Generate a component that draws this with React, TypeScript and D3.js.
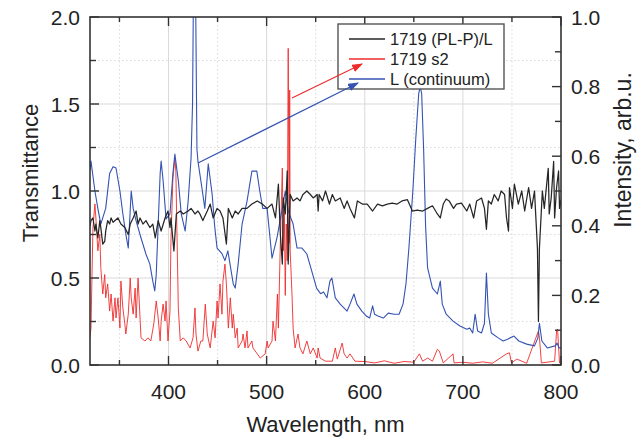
import React from "react";
import * as d3 from "d3";

const W = 640;
const H = 441;

const xTicksMajor = [400, 500, 600, 700, 800];
const xTicksMinor = [350, 450, 550, 650, 750];
const yLeftMajor = [0, 0.5, 1.0, 1.5, 2.0];
const yLeftMinor = [0.25, 0.75, 1.25, 1.75];
const yRightMajor = [0, 0.2, 0.4, 0.6, 0.8, 1.0];
const yRightMinor = [0.1, 0.3, 0.5, 0.7, 0.9];

const legendLabels = ["1719 (PL-P)/L", "1719 s2", "L (continuum)"];
const seriesColors = ["#262626", "#ee2c2c", "#3553b3"];

// Transmittance (left axis)
const blackSeries: [number, number][] = [
  [320, 0.8], [321, 0.83], [323, 0.845], [325, 0.77], [326, 0.81], [328, 0.73], [330, 0.83], [331, 0.79],
  [333, 0.695], [335, 0.71], [336, 0.77], [338, 0.83], [340, 0.81], [341.5, 0.845], [343.5, 0.82], [345.5, 0.83],
  [348.5, 0.845], [351.5, 0.81], [355.5, 0.79], [359, 0.75], [361, 0.81], [364, 0.845], [367, 0.885], [369, 0.81],
  [371, 0.845], [374, 0.81], [377, 0.83], [381, 0.79], [384, 0.81], [386.5, 0.73], [389.5, 0.83], [392.5, 0.77],
  [396.5, 0.845], [399.5, 0.885], [401.5, 0.79], [402.5, 0.845], [405.5, 0.655], [408, 0.868], [412, 0.885],
  [415, 0.868], [420, 0.885], [423, 0.9], [427, 0.868], [430, 0.885], [432, 0.868], [435, 0.83], [439.5, 0.885],
  [442.5, 0.925], [445.5, 0.845], [449.5, 0.9], [452.5, 0.885], [455.5, 0.845], [459, 0.695], [461, 0.9],
  [465, 0.845], [468, 0.885], [471, 0.868], [475, 0.9], [480, 0.9], [485, 0.925], [490.5, 0.943], [495.5, 0.925],
  [500.5, 0.9], [505.5, 0.925], [509, 0.845], [512, 1.04], [514, 0.75], [516, 0.58], [517, 0.96], [519, 0.868],
  [521, 1.115], [522, 0.58], [524, 0.98], [527, 0.943], [531, 0.96], [534, 0.943], [537, 0.98], [541, 1.0],
  [544.5, 0.98], [547.5, 0.96], [551.5, 0.98], [552.5, 0.885], [553.5, 0.98], [557, 0.943], [560, 1.0],
  [564, 0.925], [567, 0.98], [570, 0.943], [575, 0.96], [579, 0.9], [582, 0.943], [585, 0.9], [589.5, 0.845],
  [592.5, 0.943], [597.5, 0.925], [602.5, 0.925], [608, 0.885], [613, 0.925], [618, 0.915], [623, 0.925],
  [628, 0.93], [633, 0.925], [638, 0.943], [643.5, 0.95], [648.5, 0.885], [653.5, 0.89], [659, 0.885],
  [664, 0.9], [669, 0.915], [674, 0.868], [677, 0.845], [680, 0.925], [683, 0.954], [686, 0.943], [690.5, 0.9],
  [693.5, 0.925], [698.5, 0.93], [704, 0.885], [707, 0.925], [711, 0.845], [714, 0.943], [719, 0.96], [722, 0.9],
  [724, 0.78], [726, 0.943], [729, 0.925], [732, 0.98], [736, 0.943], [739, 1.0], [742.5, 0.98], [744.5, 0.845],
  [746.5, 0.77], [747.5, 1.02], [750.5, 0.9], [752.5, 1.04], [756.5, 0.925], [760, 1.0], [763, 0.885],
  [767, 1.02], [770, 0.9], [773, 1.0], [776, 0.67], [777, 0.25], [778, 0.67], [781, 1.0], [783, 0.9],
  [787, 1.13], [788, 0.868], [790, 0.96], [792.5, 1.17], [793.5, 0.845], [795.5, 1.02], [797.5, 1.115],
  [798.5, 0.9], [800, 0.95],
];

// s2 intensity (right axis)
const redSeries: [number, number][] = [
  [320, 0.08], [321, 0.106], [323, 0.394], [325, 0.463], [326, 0.422], [328, 0.328], [330, 0.376], [331, 0.28],
  [333, 0.204], [335, 0.26], [336, 0.193], [338, 0.233], [340, 0.155], [341.5, 0.204], [343.5, 0.126],
  [345.5, 0.193], [346.5, 0.135], [348.5, 0.193], [350.5, 0.106], [351.5, 0.241], [353.5, 0.164], [355.5, 0.118],
  [356.5, 0.089], [359, 0.146], [361, 0.25], [362, 0.193], [364, 0.146], [366, 0.221], [367, 0.135], [369, 0.25],
  [371, 0.135], [372, 0.078], [376, 0.069], [379, 0.078], [382, 0.069], [385, 0.118], [387.5, 0.184],
  [389.5, 0.135], [391.5, 0.069], [392.5, 0.126], [394.5, 0.175], [396.5, 0.126], [397.5, 0.184], [399.5, 0.069],
  [401.5, 0.155], [402.5, 0.356], [404.5, 0.537], [406.5, 0.595], [407.5, 0.557], [410, 0.164], [412, 0.069],
  [415, 0.078], [418, 0.069], [422, 0.049], [425, 0.078], [427, 0.164], [428, 0.089], [430, 0.04], [433, 0.069],
  [435, 0.069], [437.5, 0.175], [439.5, 0.089], [442.5, 0.049], [445.5, 0.126], [447.5, 0.078], [449.5, 0.184],
  [450.5, 0.135], [452.5, 0.233], [454.5, 0.146], [455.5, 0.241], [457.5, 0.29], [459, 0.233], [461, 0.106],
  [463, 0.193], [465, 0.106], [466, 0.146], [468, 0.078], [470, 0.106], [471, 0.049], [475, 0.069], [476, 0.089],
  [478, 0.049], [480, 0.098], [481, 0.049], [485, 0.069], [486, 0.049], [490.5, 0.032], [493.5, 0.02],
  [498.5, 0.032], [500.5, 0.069], [501.5, 0.049], [505.5, 0.069], [506.5, 0.126], [509, 0.069], [511, 0.204],
  [512, 0.106], [514, 0.356], [516, 0.566], [517, 0.328], [518, 0.45], [519, 0.2], [520, 0.405], [521, 0.3],
  [522, 0.91], [523, 0.35], [523.5, 0.79], [524, 0.328], [526, 0.193], [527, 0.106], [529, 0.049], [532, 0.089],
  [534, 0.049], [537, 0.032], [541, 0.069], [544.5, 0.032], [547.5, 0.049], [551.5, 0.02], [552.5, 0.049],
  [554.5, 0.02], [560, 0.011], [567, 0.011], [570, 0.049], [572, 0.017], [577, 0.063], [579, 0.032], [582, 0.02],
  [585, 0.032], [590, 0.011], [600, 0.01], [610, 0.006], [620, 0.012], [630, 0.005], [640, 0.01], [650, 0.008],
  [655.7, 0.032], [659, 0.011], [664, 0.02], [669, 0.011], [674, 0.045], [676, 0.04], [680, 0.006], [690, 0.032],
  [691, 0.006], [700, 0.008], [710, 0.005], [720, 0.009], [730, 0.005], [744.5, 0.032], [747.5, 0.035],
  [749.5, 0.006], [755, 0.017], [765, 0.005], [777, 0.098], [778, 0.08], [780, 0.006], [793.5, 0.011],
  [795.5, 0.098], [796.5, 0.103], [798.5, 0.006], [800, 0.005],
];

// continuum intensity (right axis)
const blueSeries: [number, number][] = [
  [320, 0.56], [321, 0.586], [325, 0.5], [328, 0.45], [331, 0.405], [336, 0.45], [340, 0.55], [343.5, 0.57],
  [346.5, 0.566], [350.5, 0.5], [353.5, 0.434], [356.5, 0.376], [359, 0.336], [362, 0.5], [364, 0.45],
  [367, 0.414], [372, 0.365], [377, 0.319], [381, 0.29], [384, 0.241], [386, 0.213], [387.5, 0.26],
  [389.5, 0.405], [391.5, 0.55], [392.5, 0.586], [394.5, 0.53], [397.5, 0.42], [401.5, 0.434], [404.5, 0.55],
  [406.5, 0.606], [410, 0.53], [413, 0.434], [417, 0.385], [420, 0.47], [423, 0.595], [424.5, 0.75],
  [425.5, 1.1], [427.5, 1.1], [429, 0.62], [430, 0.586], [434, 0.51], [437, 0.45], [440.5, 0.578],
  [444.5, 0.49], [447, 0.4], [449.5, 0.336], [454.5, 0.32], [457.5, 0.3], [460.5, 0.328], [466, 0.233],
  [468, 0.221], [471, 0.29], [475, 0.405], [480, 0.47], [485, 0.557], [490, 0.557], [493, 0.5], [496, 0.45],
  [500.5, 0.45], [505.5, 0.307], [510.5, 0.365], [515.5, 0.443], [519, 0.5], [522, 0.443], [527, 0.405],
  [531, 0.336], [536, 0.336], [541, 0.319], [546, 0.27], [551, 0.22], [555, 0.205], [558, 0.21],
  [561.5, 0.193], [564.5, 0.241], [566.5, 0.25], [570, 0.193], [575, 0.175], [582, 0.155], [585, 0.175],
  [589, 0.204], [592, 0.175], [597, 0.155], [602, 0.14], [605, 0.135], [608, 0.17], [610, 0.146], [614, 0.14],
  [619, 0.135], [624, 0.149], [630, 0.146], [635, 0.146], [639, 0.175], [642, 0.233], [645, 0.336],
  [649, 0.5], [652, 0.65], [655, 0.78], [656.5, 0.8], [658, 0.78], [660, 0.62], [662, 0.4], [664, 0.28],
  [669, 0.221], [674, 0.204], [677, 0.241], [679, 0.175], [683, 0.146], [690, 0.126], [697, 0.112],
  [704, 0.103], [707, 0.106], [710, 0.092], [712.5, 0.146], [715, 0.098], [719, 0.092], [722, 0.12],
  [724, 0.264], [726, 0.146], [729, 0.092], [736, 0.078], [741, 0.069], [746, 0.075], [752, 0.083],
  [757, 0.069], [765, 0.06], [773, 0.055], [776.5, 0.078], [778, 0.12], [780.5, 0.069], [786, 0.049],
  [794, 0.055], [796, 0.063], [798, 0.049], [800, 0.05],
];

// annotation arrows: [fromNm, fromT, toNm, toT] in left-axis units
const redArrow = [525.9, 1.534, 597.2, 1.73];
const blueArrow = [430.1, 1.161, 593.1, 1.621];

const PL = 90, PR = 561, PT = 17, PB = 365;
const FONT = "'Liberation Sans', Arial, Helvetica, sans-serif";

export default function App() {
  const x = d3.scaleLinear().domain([320, 800]).range([PL, PR]);
  const yL = d3.scaleLinear().domain([0, 2]).range([PB, PT]);
  const yR = d3.scaleLinear().domain([0, 1]).range([PB, PT]);

  const lineL = d3.line<[number, number]>().x((d) => x(d[0])).y((d) => yL(d[1]));
  const lineR = d3.line<[number, number]>().x((d) => x(d[0])).y((d) => yR(d[1]));

  const gridColor = "#d9d9d9";
  const axisColor = "#333";
  const tickFont = 21;

  const arrow = (a: number[], color: string, id: string) => (
    <line
      x1={x(a[0])}
      y1={yL(a[1])}
      x2={x(a[2])}
      y2={yL(a[3])}
      stroke={color}
      strokeWidth={1.2}
      markerEnd={`url(#${id})`}
    />
  );

  return (
    <svg
      width={W}
      height={H}
      style={{ position: "absolute", left: 0, top: 0, background: "#fff" }}
      fontFamily={FONT}
    >
      <defs>
        <clipPath id="plotClip">
          <rect x={PL} y={PT} width={PR - PL} height={PB - PT} />
        </clipPath>
        <marker id="arrRed" viewBox="0 0 10 10" refX="9" refY="5" markerWidth="11" markerHeight="8" orient="auto" markerUnits="userSpaceOnUse" preserveAspectRatio="none">
          <path d="M0,0 L10,5 L0,10 z" fill={seriesColors[1]} />
        </marker>
        <marker id="arrBlue" viewBox="0 0 10 10" refX="9" refY="5" markerWidth="11" markerHeight="8" orient="auto" markerUnits="userSpaceOnUse" preserveAspectRatio="none">
          <path d="M0,0 L10,5 L0,10 z" fill={seriesColors[2]} />
        </marker>
      </defs>

      {/* grid */}
      <g>
        {xTicksMinor.map((t) => (
          <line key={"gxm" + t} x1={x(t)} x2={x(t)} y1={PT} y2={PB} stroke={gridColor} strokeWidth={1} strokeDasharray="1.5,2.5" />
        ))}
        {xTicksMajor.filter((t) => t < 800).map((t) => (
          <line key={"gx" + t} x1={x(t)} x2={x(t)} y1={PT} y2={PB} stroke={gridColor} strokeWidth={1} />
        ))}
        {yLeftMinor.map((t) => (
          <line key={"gym" + t} x1={PL} x2={PR} y1={yL(t)} y2={yL(t)} stroke={gridColor} strokeWidth={1} strokeDasharray="1.5,2.5" />
        ))}
        {yLeftMajor.filter((t) => t > 0 && t < 2).map((t) => (
          <line key={"gy" + t} x1={PL} x2={PR} y1={yL(t)} y2={yL(t)} stroke={gridColor} strokeWidth={1} />
        ))}
      </g>

      {/* series */}
      <g clipPath="url(#plotClip)" fill="none" strokeLinejoin="round">
        <path d={lineR(redSeries) ?? ""} stroke={seriesColors[1]} strokeWidth={0.9} />
        <path d={lineR(blueSeries) ?? ""} stroke={seriesColors[2]} strokeWidth={1.1} />
        <path d={lineL(blackSeries) ?? ""} stroke={seriesColors[0]} strokeWidth={1.25} />
      </g>

      {/* frame */}
      <rect x={PL} y={PT} width={PR - PL} height={PB - PT} fill="none" stroke={axisColor} strokeWidth={1.6} />

      {/* ticks */}
      <g stroke={axisColor} strokeWidth={1.4}>
        {xTicksMajor.map((t) => (
          <g key={"tx" + t}>
            <line x1={x(t)} x2={x(t)} y1={PB} y2={PB - 9} />
            <line x1={x(t)} x2={x(t)} y1={PT} y2={PT + 9} />
          </g>
        ))}
        {xTicksMinor.map((t) => (
          <g key={"txm" + t}>
            <line x1={x(t)} x2={x(t)} y1={PB} y2={PB - 5} />
            <line x1={x(t)} x2={x(t)} y1={PT} y2={PT + 5} />
          </g>
        ))}
        {yLeftMajor.map((t) => (
          <line key={"tyl" + t} x1={PL} x2={PL + 9} y1={yL(t)} y2={yL(t)} />
        ))}
        {yLeftMinor.map((t) => (
          <line key={"tylm" + t} x1={PL} x2={PL + 6} y1={yL(t)} y2={yL(t)} />
        ))}
        {yRightMajor.map((t) => (
          <line key={"tyr" + t} x1={PR} x2={PR - 9} y1={yR(t)} y2={yR(t)} />
        ))}
        {yRightMinor.map((t) => (
          <line key={"tyrm" + t} x1={PR} x2={PR - 6} y1={yR(t)} y2={yR(t)} />
        ))}
      </g>

      {/* tick labels */}
      <g fontSize={tickFont} fill="#222">
        {xTicksMajor.map((t) => (
          <text key={"lx" + t} x={x(t)} y={PB + 34} textAnchor="middle">{t}</text>
        ))}
        {yLeftMajor.map((t) => (
          <text key={"lyl" + t} x={PL - 10} y={yL(t)} dy="0.36em" textAnchor="end">{t.toFixed(1)}</text>
        ))}
        {yRightMajor.map((t) => (
          <text key={"lyr" + t} x={PR + 10} y={yR(t)} dy="0.36em" textAnchor="start">{t.toFixed(1)}</text>
        ))}
      </g>

      {/* axis titles */}
      <text x={(PL + PR) / 2} y={432} textAnchor="middle" fontSize={22} fill="#222">Wavelength, nm</text>
      <text transform={`translate(38, ${(PT + PB) / 2 - 18}) rotate(-90)`} textAnchor="middle" fontSize={22} fill="#222">Transmittance</text>
      <text transform={`translate(631, ${(PT + PB) / 2 - 41}) rotate(-90)`} textAnchor="middle" fontSize={23} fill="#222">Intensity, arb.u.</text>

      {/* legend */}
      <g>
        <rect x={338} y={24} width={166} height={65} fill="#fff" stroke="#555" strokeWidth={1.4} />
        {legendLabels.map((lab, i) => (
          <g key={lab}>
            <line x1={349} x2={385} y1={39 + i * 20} y2={39 + i * 20} stroke={seriesColors[i]} strokeWidth={1.3} />
            <text x={390} y={39 + i * 20} dy="0.35em" fontSize={16.5} fill="#222">{lab}</text>
          </g>
        ))}
      </g>

      {/* arrows (drawn over the legend, as in the original) */}
      {arrow(redArrow, seriesColors[1], "arrRed")}
      {arrow(blueArrow, seriesColors[2], "arrBlue")}
    </svg>
  );
}
